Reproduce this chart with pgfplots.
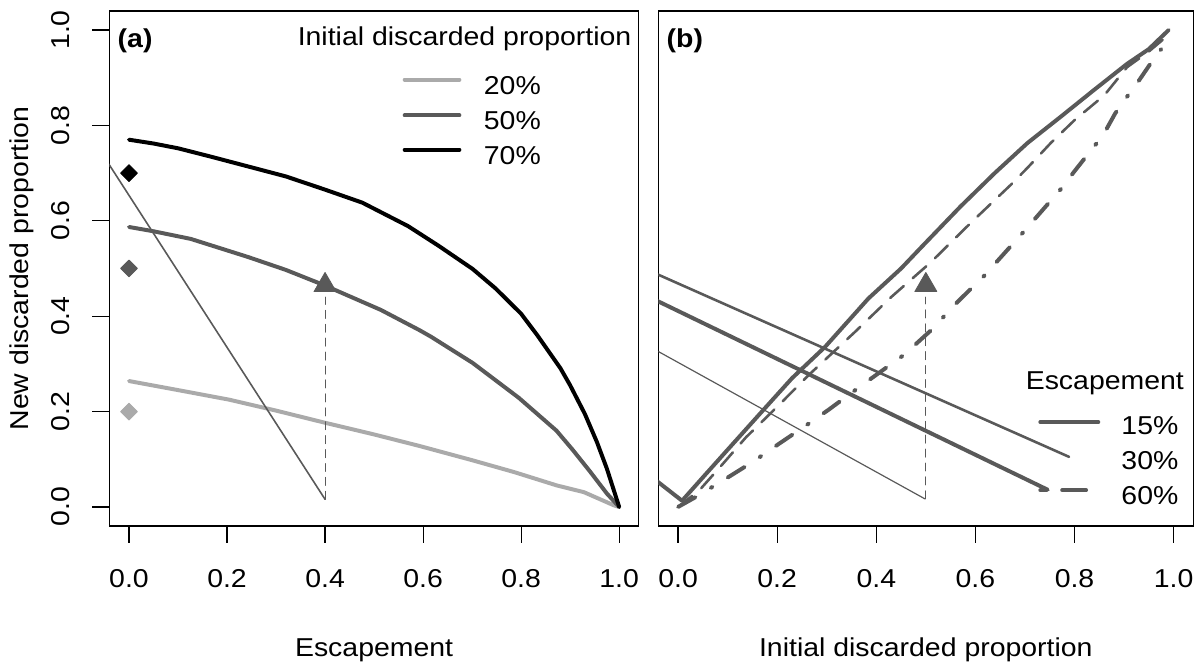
\documentclass[border=0pt]{standalone}
\usepackage{pgfplots}
\pgfplotsset{compat=1.18}
\usepackage{fontspec}
\setmainfont{Liberation Sans}[FakeStretch=1.1]

\definecolor{lgr}{HTML}{AAAAAA}
\definecolor{dgr}{HTML}{595959}

\pgfplotsset{
  panel/.style={
    scale only axis, anchor=south west, height=259pt,
    xmin=-0.04, xmax=1.04, ymin=-0.04, ymax=1.04,
    axis line style={line width=0.6pt},
    every tick/.style={line width=0.6pt, black},
    tick align=outside, major tick length=8.5pt,
    xtick={0,0.2,0.4,0.6,0.8,1}, xticklabels={0.0,0.2,0.4,0.6,0.8,1.0},
    xtick pos=bottom,
    xticklabel style={anchor=center, yshift=-18pt},
    /pgf/number format/assume math mode=true,
    xlabel style={at={(rel axis cs:0.5,-0.2413)}, anchor=center, inner sep=0pt},
    every axis plot/.append style={line cap=round, line join=round},
  },
}

\begin{document}
\fontsize{13}{15.6}\selectfont
\begin{tikzpicture}
\path (0,0) rectangle (601pt,334.5pt);

% (a) new discarded proportion against escapement
\begin{axis}[panel, at={(55pt,70pt)}, width=266.2pt,
  ytick={0,0.2,0.4,0.6,0.8,1}, yticklabels={0.0,0.2,0.4,0.6,0.8,1.0},
  ytick pos=left,
  yticklabel style={anchor=center, xshift=-16pt, rotate=90},
  xlabel={Escapement}, ylabel={New discarded proportion},
  ylabel style={at={(rel axis cs:-0.1653,0.5)}, anchor=center, inner sep=0pt},
]
\addplot[lgr, line width=2pt] coordinates {
  (0,0.264) (0.1,0.245) (0.204,0.225) (0.3,0.202) (0.398,0.177) (0.5,0.152)
  (0.592,0.128) (0.7,0.098) (0.786,0.073) (0.873,0.045) (0.928,0.031)
  (0.99,0.003) (1,0)};
\addplot[dgr, line width=2pt] coordinates {
  (0,0.587) (0.05,0.578) (0.126,0.562) (0.243,0.524) (0.32,0.497) (0.398,0.465)
  (0.514,0.413) (0.592,0.371) (0.616,0.357) (0.701,0.302) (0.795,0.229)
  (0.872,0.16) (0.905,0.12) (0.94,0.075) (0.975,0.028) (1,0)};
\addplot[black, line width=2pt] coordinates {
  (0,0.77) (0.05,0.762) (0.1,0.752) (0.165,0.735) (0.25,0.712) (0.32,0.693)
  (0.398,0.666) (0.476,0.638) (0.569,0.589) (0.631,0.548) (0.701,0.499)
  (0.748,0.458) (0.8,0.405) (0.833,0.36) (0.88,0.291) (0.9,0.255)
  (0.93,0.195) (0.955,0.135) (0.975,0.08) (1,0)};
\addplot[dgr, line width=0.8pt] coordinates {(-0.05,0.733) (0.4,0.016)};
\addplot[dgr, line width=0.5pt, dash pattern=on 4pt off 3pt] coordinates {(0.4,0.016) (0.4,0.44)};
\addplot[only marks, mark=triangle*, mark size=6.4pt, dgr] coordinates {(0.4,0.465)};
\addplot[only marks, mark=square*, mark size=3pt, mark options={rotate=45}, black] coordinates {(0,0.7)};
\addplot[only marks, mark=square*, mark size=3pt, mark options={rotate=45}, dgr] coordinates {(0,0.5)};
\addplot[only marks, mark=square*, mark size=3pt, mark options={rotate=45}, lgr] coordinates {(0,0.2)};

\node[anchor=west, inner sep=0pt, font=\bfseries] at (rel axis cs:0.015,0.942) {(a)};
\node[anchor=base east, inner sep=0pt] at (axis cs:1.0256,0.9673) {Initial discarded proportion};
\draw[lgr, line width=2pt, line cap=round] (axis cs:0.5624,0.896) -- (axis cs:0.674,0.896);
\draw[dgr, line width=2pt, line cap=round] (axis cs:0.5624,0.821) -- (axis cs:0.674,0.821);
\draw[black, line width=2pt, line cap=round] (axis cs:0.5624,0.749) -- (axis cs:0.674,0.749);
\node[anchor=base west, inner sep=0pt] at (axis cs:0.7233,0.8648) {20\%};
\node[anchor=base west, inner sep=0pt] at (axis cs:0.7233,0.791) {50\%};
\node[anchor=base west, inner sep=0pt] at (axis cs:0.7233,0.717) {70\%};
\end{axis}

% (b) new discarded proportion against initial discarded proportion
\begin{axis}[panel, at={(331pt,70pt)}, width=269.1pt,
  ytick=\empty, xlabel={Initial discarded proportion},
]
\addplot[dgr, line width=1.3pt] coordinates {(-0.05,0.4916) (0.789,0.105)};
\addplot[dgr, line width=2pt] coordinates {(-0.05,0.436) (0.746,0.036)};
\addplot[dgr, line width=0.6pt] coordinates {(-0.05,0.3317) (0.498,0.017)};
\addplot[dgr, line width=2pt] coordinates {
  (-0.045,0.056) (0.008,0.013) (0.05,0.062) (0.1,0.12) (0.17,0.201) (0.23,0.27)
  (0.297,0.336) (0.384,0.437) (0.45,0.5) (0.494,0.548) (0.57,0.63) (0.639,0.7)
  (0.705,0.763) (0.772,0.818) (0.839,0.874) (0.906,0.929) (0.95,0.96) (0.99,1.0)};
\addplot[dgr, line width=1.3pt, dash pattern=on 9pt off 6pt] coordinates {
  (0,0) (0.043,0.035) (0.09,0.09) (0.137,0.146) (0.2,0.21) (0.264,0.277)
  (0.358,0.368) (0.43,0.44) (0.51,0.513) (0.59,0.595) (0.672,0.676)
  (0.705,0.711) (0.752,0.763) (0.8,0.811) (0.86,0.863) (0.906,0.922)
  (0.95,0.955) (0.99,0.99)};
\addplot[dgr, line width=2pt, dash pattern=on 10pt off 9pt on 1pt off 9pt] coordinates {
  (0,0) (0.036,0.021) (0.096,0.059) (0.15,0.094) (0.203,0.132) (0.257,0.17)
  (0.304,0.204) (0.364,0.25) (0.456,0.319) (0.51,0.37) (0.564,0.43)
  (0.618,0.485) (0.7,0.58) (0.772,0.666) (0.8,0.704) (0.829,0.742)
  (0.858,0.78) (0.882,0.825) (0.908,0.863) (0.928,0.891) (0.951,0.926)
  (0.975,0.96)};
\addplot[dgr, line width=0.5pt, dash pattern=on 4pt off 3pt] coordinates {(0.5,0.017) (0.5,0.44)};
\addplot[only marks, mark=triangle*, mark size=6.4pt, dgr] coordinates {(0.5,0.465)};

\node[anchor=west, inner sep=0pt, font=\bfseries] at (rel axis cs:0.015,0.942) {(b)};
\node[anchor=base east, inner sep=0pt] at (axis cs:1.0215,0.246) {Escapement};
\draw[dgr, line width=2pt, line cap=round] (axis cs:0.731,0.178) -- (axis cs:0.848,0.178);
\draw[dgr, line width=2pt, line cap=round, dash pattern=on 3pt off 8pt on 12pt off 20pt]
  (axis cs:0.731,0.035) -- (axis cs:0.848,0.035);
\node[anchor=base west, inner sep=0pt] at (axis cs:0.894,0.1525) {15\%};
\node[anchor=base west, inner sep=0pt] at (axis cs:0.894,0.079) {30\%};
\node[anchor=base west, inner sep=0pt] at (axis cs:0.894,0.0056) {60\%};
\end{axis}
\end{tikzpicture}
\end{document}
